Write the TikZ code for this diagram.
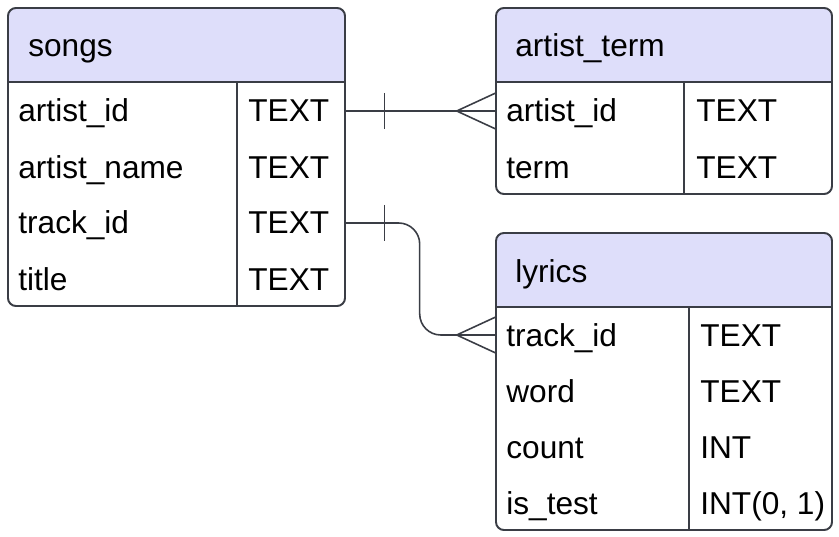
\documentclass[tikz,border=0pt]{standalone}
\usepackage{fontspec}
\setmainfont{Liberation Sans}
\definecolor{headfill}{HTML}{DEDEFA}
\definecolor{edge}{HTML}{3A3D45}
\tikzset{
  tabline/.style={draw=edge, line width=1.1pt},
  relline/.style={draw=edge, line width=0.9pt},
  txt/.style={anchor=base west, inner sep=0pt, font=\fontsize{18}{20}\selectfont, text=black},
  rowcell/.style={inner sep=0pt, minimum height=1.12cm},
}

\begin{document}
\begin{tikzpicture}[x=0.02cm, y=-0.02cm]
\useasboundingbox (0,0) rectangle (839,537);

% ===== songs =====
\begin{scope}
  \clip[rounded corners=4.5pt] (8,8) rectangle (345,306);
  \fill[white] (8,8) rectangle (345,306);
  \fill[headfill] (8,8) rectangle (345,82);
\end{scope}
\draw[tabline, rounded corners=4.5pt] (8,8) rectangle (345,306);
\draw[tabline] (8,82) -- (345,82);
\draw[tabline] (237,82) -- (237,306);
\node[txt] (songs) at (28,57) {songs};
\foreach \i/\name in {1/artist\_id, 2/artist\_name, 3/track\_id, 4/title} {
  \node[rowcell, minimum width=6.74cm] (songs-\i) at (176.5,55+56*\i) {};
  \node[txt] (songs-\i-name) at (18,66+56*\i) {\name};
  \node[txt] (songs-\i-type) at (248,66+56*\i) {TEXT};
}

% ===== artist_term =====
\begin{scope}
  \clip[rounded corners=4.5pt] (496,8) rectangle (832,194);
  \fill[white] (496,8) rectangle (832,194);
  \fill[headfill] (496,8) rectangle (832,82);
\end{scope}
\draw[tabline, rounded corners=4.5pt] (496,8) rectangle (832,194);
\draw[tabline] (496,82) -- (832,82);
\draw[tabline] (684,82) -- (684,194);
\node[txt] (aterm) at (515,57) {artist\_term};
\foreach \i/\name in {1/artist\_id, 2/term} {
  \node[rowcell, minimum width=6.72cm] (aterm-\i) at (664,55+56*\i) {};
  \node[txt] (aterm-\i-name) at (506,66+56*\i) {\name};
  \node[txt] (aterm-\i-type) at (696,66+56*\i) {TEXT};
}

% ===== lyrics =====
\begin{scope}
  \clip[rounded corners=4.5pt] (496,233) rectangle (832,530);
  \fill[white] (496,233) rectangle (832,530);
  \fill[headfill] (496,233) rectangle (832,307);
\end{scope}
\draw[tabline, rounded corners=4.5pt] (496,233) rectangle (832,530);
\draw[tabline] (496,307) -- (832,307);
\draw[tabline] (689,307) -- (689,530);
\node[txt] (lyrics) at (515,282) {lyrics};
\foreach \i/\name/\type in {1/track\_id/TEXT, 2/word/TEXT, 3/count/INT, 4/is\_test/{INT(0, 1)}} {
  \node[rowcell, minimum width=6.72cm] (lyrics-\i) at (664,279+56*\i) {};
  \node[txt] (lyrics-\i-name) at (506,290+56*\i) {\name};
  \node[txt] (lyrics-\i-type) at (700,290+56*\i) {\type};
}

% ===== relations =====
% songs.artist_id -> artist_term.artist_id
\draw[relline] (songs-1.east) -- (aterm-1.west);
\draw[relline] ([xshift=0.78cm]songs-1.east) ++(0,-18) -- ++(0,36);
\draw[relline] ([xshift=-0.78cm]aterm-1.west) -- ++(39,-18)
               ([xshift=-0.78cm]aterm-1.west) -- ++(39,18);

% songs.track_id -> lyrics.track_id
\draw[relline, rounded corners=12pt] (songs-3.east) -| ([xshift=-1.52cm]lyrics-1.west) -- (lyrics-1.west);
\draw[relline] ([xshift=0.78cm]songs-3.east) ++(0,-18) -- ++(0,36);
\draw[relline] ([xshift=-0.78cm]lyrics-1.west) -- ++(39,-18)
               ([xshift=-0.78cm]lyrics-1.west) -- ++(39,18);

\end{tikzpicture}
\end{document}
